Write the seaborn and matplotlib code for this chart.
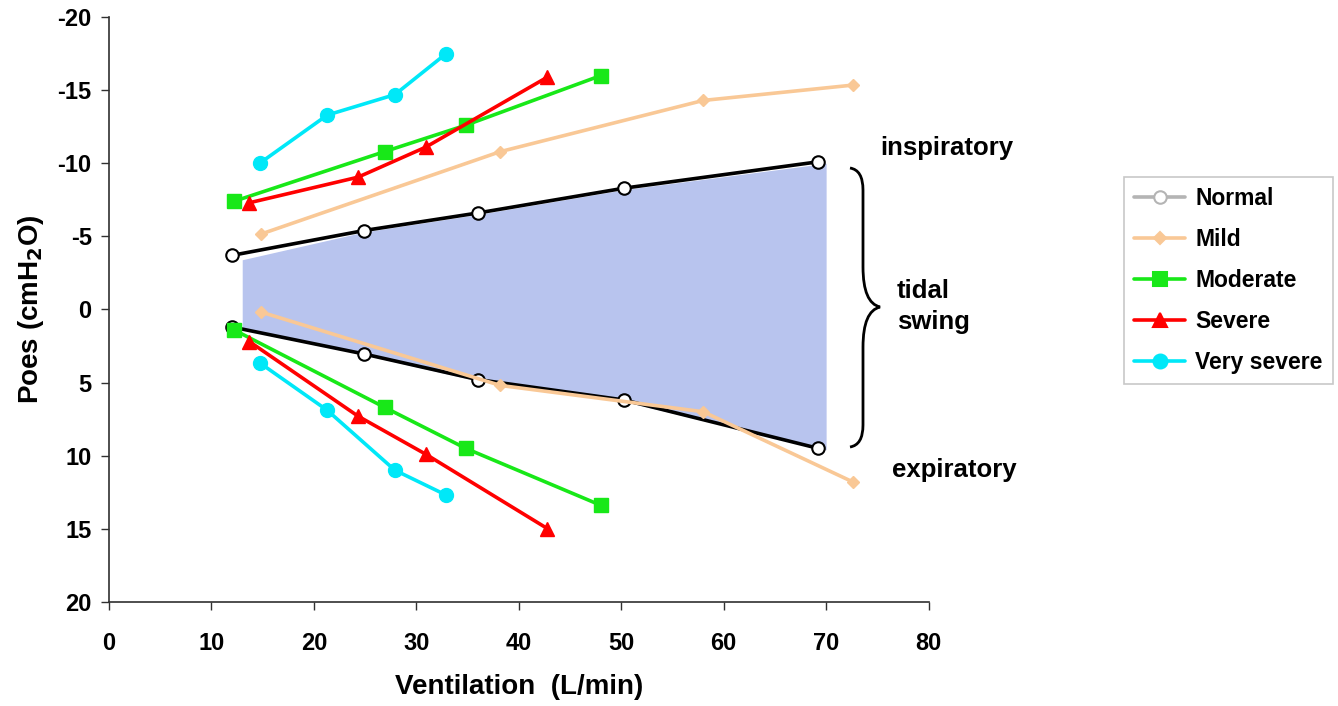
import matplotlib
matplotlib.use("Agg")
import matplotlib.pyplot as plt
import seaborn as sns
import numpy as np
import pandas as pd
from matplotlib.lines import Line2D
from matplotlib.path import Path
from matplotlib.patches import PathPatch

sns.set_theme(style="white")
plt.rcParams['font.family'] = ['Liberation Sans', 'DejaVu Sans']
plt.rcParams['axes.unicode_minus'] = False
plt.rcParams['font.weight'] = 'bold'
plt.rcParams['text.color'] = 'black'
plt.rcParams['axes.labelcolor'] = 'black'
plt.rcParams['xtick.color'] = 'black'
plt.rcParams['ytick.color'] = 'black'

# ---- data ----
normal_x = [12.0, 24.9, 36.0, 50.3, 69.2]
normal_insp = [-3.7, -5.4, -6.6, -8.3, -10.1]
normal_exp = [1.2, 3.05, 4.8, 6.2, 9.5]

mild_x = [14.8, 38.2, 58.0, 72.6]
mild_insp = [-5.15, -10.8, -14.3, -15.35]
mild_exp = [0.17, 5.2, 7.0, 11.8]

moderate_x = [12.2, 26.9, 34.8, 48.0]
moderate_insp = [-7.4, -10.8, -12.6, -16.0]
moderate_exp = [1.4, 6.7, 9.5, 13.4]

severe_x = [13.7, 24.3, 30.9, 42.8]
severe_insp = [-7.3, -9.05, -11.1, -15.9]
severe_exp = [2.2, 7.3, 9.9, 15.0]

vsevere_x = [14.7, 21.3, 27.9, 32.9]
vsevere_insp = [-10.0, -13.3, -14.7, -17.5]
vsevere_exp = [3.65, 6.9, 11.0, 12.7]

# shaded tidal swing region (normal)
band_x = [13.0, 24.9, 36.0, 50.3, 70.0]
band_top = [-3.4, -5.3, -6.5, -8.2, -10.0]
band_bottom = [1.3, 3.1, 4.9, 6.3, 9.6]

series = ["Normal", "Mild", "Moderate", "Severe", "Very severe"]
x_ticks = [0, 10, 20, 30, 40, 50, 60, 70, 80]
y_ticks = [-20, -15, -10, -5, 0, 5, 10, 15, 20]

styles = {
    "Normal": dict(color="black", marker="o", mfc="white", mec="black", ms=9, mew=1.5, lw=2.6),
    "Mild": dict(color="#f9c896", marker="D", mfc="#f9c896", mec="#f9c896", ms=6.5, mew=1, lw=2.6),
    "Moderate": dict(color="#18e818", marker="s", mfc="#18e818", mec="#18e818", ms=9.5, mew=1, lw=2.6),
    "Severe": dict(color="#ff0000", marker="^", mfc="#ff0000", mec="#ff0000", ms=10, mew=1, lw=2.6),
    "Very severe": dict(color="#00e8f8", marker="o", mfc="#00e8f8", mec="#00e8f8", ms=10, mew=1, lw=2.6),
}
data = {
    "Normal": (normal_x, normal_insp, normal_exp),
    "Mild": (mild_x, mild_insp, mild_exp),
    "Moderate": (moderate_x, moderate_insp, moderate_exp),
    "Severe": (severe_x, severe_insp, severe_exp),
    "Very severe": (vsevere_x, vsevere_insp, vsevere_exp),
}

fig = plt.figure(figsize=(13.38, 7.06), dpi=100)
ax = fig.add_axes([0.0815, 0.1477, 0.6125, 0.828])

ax.fill_between(band_x, band_top, band_bottom, color="#b8c4ee", lw=0, zorder=1)

for i, name in enumerate(series):
    xs, ins, exs = data[name]
    st = styles[name]
    for ys in (ins, exs):
        df = pd.DataFrame({"x": xs, "y": ys})
        sns.lineplot(data=df, x="x", y="y", sort=False, ax=ax, color=st["color"],
                     linewidth=st["lw"], marker=st["marker"], markersize=st["ms"],
                     markerfacecolor=st["mfc"], markeredgecolor=st["mec"],
                     markeredgewidth=st["mew"], zorder=3 + i, legend=False)

ax.set_xlim(0, 80)
ax.set_ylim(20, -20)
ax.set_xticks(x_ticks)
ax.set_yticks(y_ticks)
ax.set_xticklabels([str(v) for v in x_ticks], fontsize=17, fontweight="bold")
ax.set_yticklabels([str(v) for v in y_ticks], fontsize=17, fontweight="bold")
ax.tick_params(axis="both", direction="out", length=5.5, width=1, color="#303030",
               bottom=True, left=True)
ax.tick_params(axis="x", pad=16)
ax.tick_params(axis="y", pad=7)
for s in ["top", "right"]:
    ax.spines[s].set_visible(False)
for s in ["left", "bottom"]:
    ax.spines[s].set_color("#303030")
    ax.spines[s].set_linewidth(1.2)

ax.set_xlabel("Ventilation  (L/min)", fontsize=20, fontweight="bold", labelpad=14)
ax.set_ylabel("Poes (cmH$_\\mathbf{2}$O)", fontsize=20, fontweight="bold", labelpad=8)

# annotations
W, H = 1338.0, 706.0
def P(x, y):
    return (x / W, 1 - y / H)

fig.text(*P(880, 155), "inspiratory", ha="left", va="baseline", fontsize=18.5, fontweight="bold")
fig.text(*P(897, 298), "tidal", ha="left", va="baseline", fontsize=18.5, fontweight="bold")
fig.text(*P(897, 329), "swing", ha="left", va="baseline", fontsize=18.5, fontweight="bold")
fig.text(*P(892, 477), "expiratory", ha="left", va="baseline", fontsize=18.5, fontweight="bold")

# curly brace
x0, xm, xt = 850, 863, 880
ytop, ymid, ybot = 168, 307, 447
verts = [P(x0, ytop), P(xm, ytop + 2), P(xm, ytop + 22),
         P(xm, ymid - 40), P(xm, ymid - 4), P(xt, ymid),
         P(xm, ymid + 4), P(xm, ymid + 40), P(xm, ybot - 22),
         P(xm, ybot - 2), P(x0, ybot)]
codes = [Path.MOVETO, Path.CURVE3, Path.CURVE3,
         Path.LINETO, Path.CURVE3, Path.CURVE3,
         Path.CURVE3, Path.CURVE3, Path.LINETO,
         Path.CURVE3, Path.CURVE3]
brace = PathPatch(Path(verts, codes), transform=fig.transFigure, fill=False,
                  lw=2, edgecolor="black")
fig.patches.append(brace)

# legend
handles = []
for name in series:
    st = styles[name]
    col = "#b4b4b4" if name == "Normal" else st["color"]
    mec = "#b4b4b4" if name == "Normal" else st["mec"]
    handles.append(Line2D([], [], color=col, lw=2.6, marker=st["marker"], markersize=st["ms"],
                          markerfacecolor=st["mfc"], markeredgecolor=mec, markeredgewidth=1.5))
leg = fig.legend(handles, series, loc="upper left", bbox_to_anchor=P(1124, 177),
                 bbox_transform=fig.transFigure, frameon=True, fancybox=False,
                 edgecolor="#c8c8c8", framealpha=1, handlelength=2.2, labelspacing=0.78,
                 borderpad=0.45, handletextpad=0.45, borderaxespad=0,
                 prop=dict(size=16.5, weight="bold"))
leg.get_frame().set_linewidth(1.2)

fig.savefig("out.png", dpi=100)
